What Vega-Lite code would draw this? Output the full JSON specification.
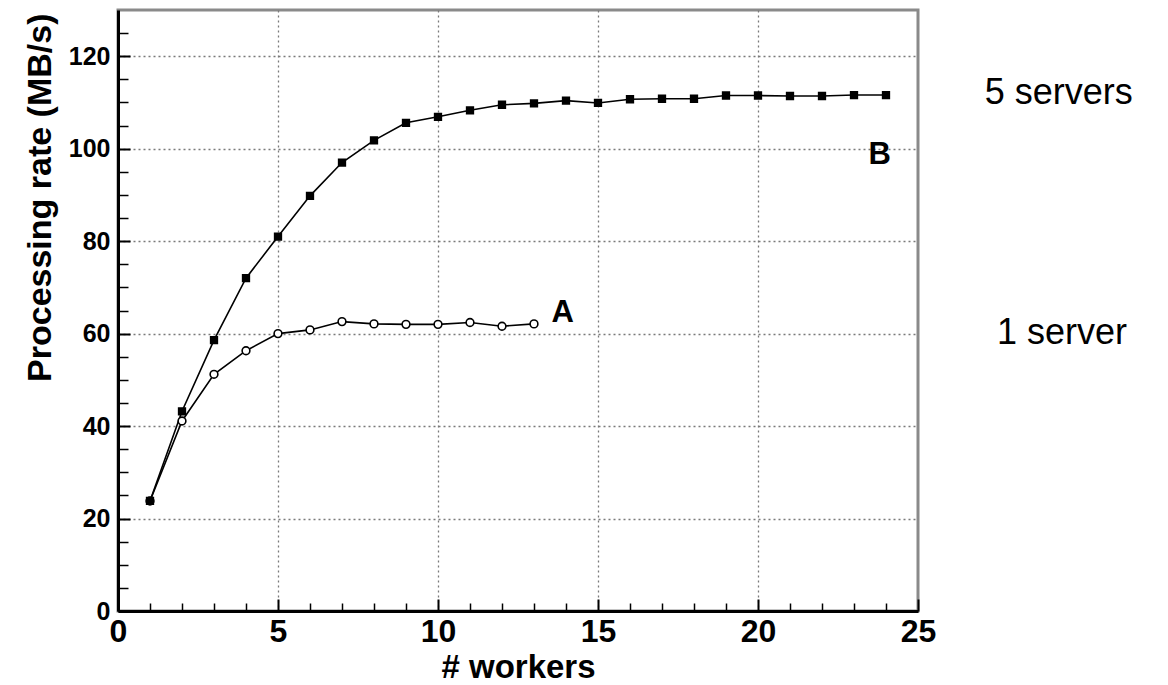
{
  "$schema": "https://vega.github.io/schema/vega-lite/v6.json",
  "autosize": "none",
  "width": 800,
  "height": 601,
  "padding": {"left": 118, "top": 10, "right": 250, "bottom": 74},
  "background": "white",
  "config": {
    "font": "Liberation Sans",
    "view": {"stroke": "#8a8a8a", "strokeWidth": 3},
    "axis": {
      "domainColor": "black",
      "domainWidth": 3,
      "tickColor": "black",
      "gridColor": "#7a7a7a",
      "gridDash": [2, 3],
      "gridWidth": 1.3,
      "labelColor": "black",
      "labelFontWeight": "bold",
      "labelOverlap": false,
      "labelFlush": false,
      "titleColor": "black",
      "titleFontWeight": "bold"
    }
  },
  "datasets": {
    "series": [
      {"w": 1, "rate": 23.8, "s": "A"},
      {"w": 2, "rate": 41.1, "s": "A"},
      {"w": 3, "rate": 51.2, "s": "A"},
      {"w": 4, "rate": 56.3, "s": "A"},
      {"w": 5, "rate": 60.0, "s": "A"},
      {"w": 6, "rate": 60.8, "s": "A"},
      {"w": 7, "rate": 62.6, "s": "A"},
      {"w": 8, "rate": 62.1, "s": "A"},
      {"w": 9, "rate": 62.0, "s": "A"},
      {"w": 10, "rate": 62.0, "s": "A"},
      {"w": 11, "rate": 62.4, "s": "A"},
      {"w": 12, "rate": 61.6, "s": "A"},
      {"w": 13, "rate": 62.1, "s": "A"},
      {"w": 1, "rate": 23.8, "s": "B"},
      {"w": 2, "rate": 43.2, "s": "B"},
      {"w": 3, "rate": 58.6, "s": "B"},
      {"w": 4, "rate": 72.0, "s": "B"},
      {"w": 5, "rate": 81.0, "s": "B"},
      {"w": 6, "rate": 89.8, "s": "B"},
      {"w": 7, "rate": 97.0, "s": "B"},
      {"w": 8, "rate": 101.8, "s": "B"},
      {"w": 9, "rate": 105.6, "s": "B"},
      {"w": 10, "rate": 106.9, "s": "B"},
      {"w": 11, "rate": 108.3, "s": "B"},
      {"w": 12, "rate": 109.5, "s": "B"},
      {"w": 13, "rate": 109.8, "s": "B"},
      {"w": 14, "rate": 110.4, "s": "B"},
      {"w": 15, "rate": 109.9, "s": "B"},
      {"w": 16, "rate": 110.7, "s": "B"},
      {"w": 17, "rate": 110.8, "s": "B"},
      {"w": 18, "rate": 110.8, "s": "B"},
      {"w": 19, "rate": 111.5, "s": "B"},
      {"w": 20, "rate": 111.5, "s": "B"},
      {"w": 21, "rate": 111.4, "s": "B"},
      {"w": 22, "rate": 111.4, "s": "B"},
      {"w": 23, "rate": 111.6, "s": "B"},
      {"w": 24, "rate": 111.6, "s": "B"}
    ],
    "labels": [
      {"w": 13.9, "rate": 64.4, "text": "A"},
      {"w": 23.8, "rate": 98.6, "text": "B"}
    ],
    "side": [
      {"w": 29.4, "rate": 112.0, "text": "5 servers"},
      {"w": 29.5, "rate": 60.1, "text": "1 server"}
    ]
  },
  "encoding": {
    "x": {
      "field": "w", "type": "quantitative",
      "scale": {"domain": [0, 25], "nice": false, "zero": false},
      "axis": {
        "title": "# workers",
        "titleFontSize": 33,
        "titlePadding": 0,
        "values": [0,1,2,3,4,5,6,7,8,9,10,11,12,13,14,15,16,17,18,19,20,21,22,23,24,25],
        "labelExpr": "datum.value % 5 === 0 ? datum.label : ''",
        "labelFontSize": 32,
        "labelPadding": 17,
        "labelOverlap": false,
        "labelFlush": false,
        "labelBound": false,
        "tickSize": {"condition": {"test": "datum.value % 5 === 0", "value": -12}, "value": -8},
        "tickWidth": {"condition": {"test": "datum.value % 5 === 0", "value": 2}, "value": 1.5},
        "gridOpacity": {"condition": {"test": "datum.value % 5 === 0 && datum.value > 0 && datum.value < 25", "value": 1}, "value": 0}
      }
    },
    "y": {
      "field": "rate", "type": "quantitative",
      "scale": {"domain": [0, 130], "nice": false},
      "axis": {
        "title": "Processing rate (MB/s)",
        "titleFontSize": 34,
        "titlePadding": 11,
        "titleAnchor": "end",
        "titleY": 3,
        "values": [0,5,10,15,20,25,30,35,40,45,50,55,60,65,70,75,80,85,90,95,100,105,110,115,120,125],
        "labelExpr": "datum.value % 20 === 0 ? datum.label : ''",
        "labelFontSize": 25,
        "labelPadding": 20,
        "labelOverlap": false,
        "labelFlush": false,
        "labelBound": false,
        "tickSize": {"condition": {"test": "datum.value % 20 === 0", "value": -12}, "value": -10},
        "tickWidth": {"condition": {"test": "datum.value % 20 === 0", "value": 2}, "value": 1.5},
        "gridOpacity": {"condition": {"test": "datum.value % 20 === 0 && datum.value > 0", "value": 1}, "value": 0}
      }
    }
  },
  "layer": [
    {
      "data": {"name": "series"},
      "mark": {"type": "line", "color": "black", "strokeWidth": 1.6},
      "encoding": {"detail": {"field": "s"}}
    },
    {
      "data": {"name": "series"},
      "mark": {"type": "point", "stroke": "black", "strokeWidth": 1.6, "opacity": 1},
      "encoding": {
        "shape": {"field": "s", "type": "nominal", "scale": {"domain": ["A", "B"], "range": ["circle", "square"]}, "legend": null},
        "fill": {"field": "s", "type": "nominal", "scale": {"domain": ["A", "B"], "range": ["white", "black"]}, "legend": null},
        "size": {"field": "s", "type": "nominal", "scale": {"domain": ["A", "B"], "range": [60, 45]}, "legend": null}
      }
    },
    {
      "data": {"name": "labels"},
      "mark": {"type": "text", "fontSize": 31, "fontWeight": "bold", "color": "black", "align": "center", "baseline": "middle"},
      "encoding": {"text": {"field": "text"}}
    },
    {
      "data": {"name": "side"},
      "mark": {"type": "text", "fontSize": 36, "font": "Liberation Sans", "color": "black", "align": "center", "baseline": "middle"},
      "encoding": {"text": {"field": "text"}}
    }
  ]
}
